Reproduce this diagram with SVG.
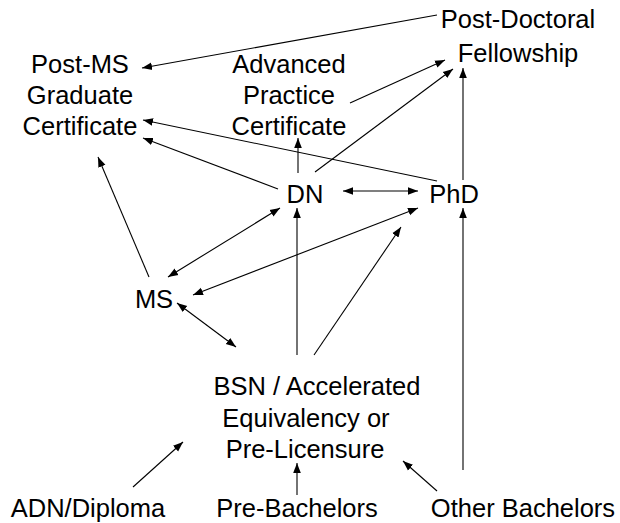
<svg xmlns="http://www.w3.org/2000/svg" width="620" height="523" viewBox="0 0 620 523">
<defs>
<marker id="a" viewBox="0 0 10 10" refX="10" refY="5" markerWidth="10" markerHeight="10" markerUnits="userSpaceOnUse" orient="auto-start-reverse"><path d="M0,1.2 L10,5 L0,8.8 z" fill="#000"/></marker>
</defs>
<style>
text{font-family:"Liberation Sans",Arial,sans-serif;font-size:25.5px;fill:#000;text-anchor:middle}
.c line{stroke:#000;stroke-width:1.1;fill:none;marker-end:url(#a)}
.c line.b{marker-start:url(#a)}
</style>
<rect width="620" height="523" fill="#fff"/>
<g id="postdoc"><text x="518" y="28">Post-Doctoral</text><text x="518" y="62">Fellowship</text></g>
<g id="postms"><text x="80" y="73">Post-MS</text><text x="80" y="104">Graduate</text><text x="80" y="135">Certificate</text></g>
<g id="apc"><text x="289" y="73">Advanced</text><text x="289" y="104">Practice</text><text x="289" y="135">Certificate</text></g>
<g id="dn"><text x="305" y="203">DN</text></g>
<g id="phd"><text x="454" y="203">PhD</text></g>
<g id="ms"><text x="154" y="308">MS</text></g>
<g id="bsn"><text x="317" y="395">BSN / Accelerated</text><text x="306" y="427">Equivalency or</text><text x="305" y="458">Pre-Licensure</text></g>
<g id="adn"><text x="88" y="517">ADN/Diploma</text></g>
<g id="preb"><text x="297" y="517">Pre-Bachelors</text></g>
<g id="other"><text x="523" y="517">Other Bachelors</text></g>
<g class="c" id="connectors">
<line x1="437" y1="15" x2="142" y2="68"/>
<line x1="350" y1="103" x2="445" y2="60"/>
<line x1="315" y1="172" x2="453" y2="69"/>
<line x1="463" y1="180" x2="463" y2="68"/>
<line x1="298" y1="173" x2="298" y2="138"/>
<line x1="278" y1="189" x2="143" y2="138"/>
<line x1="437" y1="181" x2="143" y2="120"/>
<line x1="149" y1="277" x2="98" y2="157"/>
<line class="b" x1="343" y1="191" x2="418" y2="191"/>
<line class="b" x1="168" y1="277" x2="280" y2="208"/>
<line class="b" x1="193" y1="295" x2="418" y2="208"/>
<line class="b" x1="177" y1="303" x2="236" y2="347"/>
<line x1="297" y1="355" x2="297" y2="208"/>
<line x1="314" y1="355" x2="401" y2="227"/>
<line x1="463" y1="470" x2="463" y2="208"/>
<line x1="133" y1="487" x2="183" y2="442"/>
<line x1="297" y1="495" x2="297" y2="463"/>
<line x1="437" y1="491" x2="403" y2="461"/>
</g>
</svg>
